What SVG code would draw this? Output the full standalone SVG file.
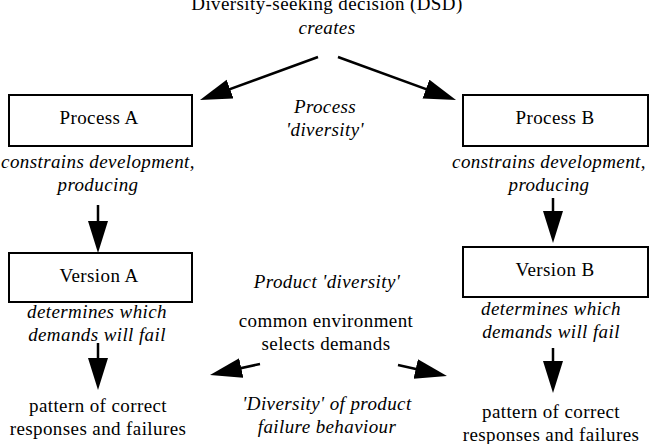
<svg xmlns="http://www.w3.org/2000/svg" width="654" height="444" viewBox="0 0 654 444">
<style>
.t{font-family:"Liberation Serif","Times New Roman",serif;font-size:19px;letter-spacing:0.4px;fill:#000;text-anchor:middle}
.i{font-style:italic}
.box{fill:#fff;stroke:#000;stroke-width:2}
.c line{stroke:#000;stroke-width:2.5;marker-end:url(#ah)}
</style>
<defs>
<marker id="ah" markerUnits="userSpaceOnUse" markerWidth="34" markerHeight="22" refX="22" refY="10" orient="auto" viewBox="0 0 34 22">
<path d="M0,0 L32,10 L0,20 Z" fill="#000"/>
</marker>
</defs>
<rect width="654" height="444" fill="#fff"/>
<g id="dsd">
<text class="t" x="327" y="10">Diversity-seeking decision (DSD)</text>
<text class="t i" x="327" y="34">creates</text>
</g>
<g id="process-diversity">
<text class="t i" x="325" y="113">Process</text>
<text class="t i" x="325" y="136">'diversity'</text>
</g>
<g id="process-a">
<rect class="box" x="9" y="95" width="183" height="51"/>
<text class="t" x="99" y="124">Process A</text>
<text class="t i" x="98" y="168">constrains development,</text>
<text class="t i" x="98" y="191">producing</text>
</g>
<g id="process-b">
<rect class="box" x="463" y="95" width="185" height="51"/>
<text class="t" x="555" y="124">Process B</text>
<text class="t i" x="549" y="168">constrains development,</text>
<text class="t i" x="549" y="191">producing</text>
</g>
<g id="version-a">
<rect class="box" x="9" y="253" width="183" height="49"/>
<text class="t" x="99" y="282">Version A</text>
<text class="t i" x="97" y="318">determines which</text>
<text class="t i" x="97" y="341">demands will fail</text>
</g>
<g id="version-b">
<rect class="box" x="463" y="247" width="185" height="50"/>
<text class="t" x="555" y="276">Version B</text>
<text class="t i" x="551" y="315">determines which</text>
<text class="t i" x="551" y="338">demands will fail</text>
</g>
<g id="product-diversity">
<text class="t i" x="327" y="288">Product 'diversity'</text>
<text class="t" x="326" y="327">common environment</text>
<text class="t" x="326" y="350">selects demands</text>
</g>
<g id="pattern-a">
<text class="t" x="98" y="412">pattern of correct</text>
<text class="t" x="98" y="435">responses and failures</text>
</g>
<g id="pattern-b">
<text class="t" x="551" y="418">pattern of correct</text>
<text class="t" x="551" y="441">responses and failures</text>
</g>
<g id="failure-diversity">
<text class="t i" x="327" y="410">'Diversity' of product</text>
<text class="t i" x="327" y="433">failure behaviour</text>
</g>
<g id="connectors" class="c">
<line x1="318" y1="57" x2="209.4" y2="96.6"/>
<line x1="338" y1="57" x2="446.6" y2="96.6"/>
<line x1="98" y1="205" x2="98" y2="243"/>
<line x1="553" y1="198" x2="553" y2="233"/>
<line x1="98" y1="343" x2="98" y2="380"/>
<line x1="553" y1="348" x2="553" y2="383"/>
<line x1="260" y1="364" x2="219.8" y2="372.8"/>
<line x1="398" y1="365" x2="437.2" y2="373.8"/>
</g>
</svg>
